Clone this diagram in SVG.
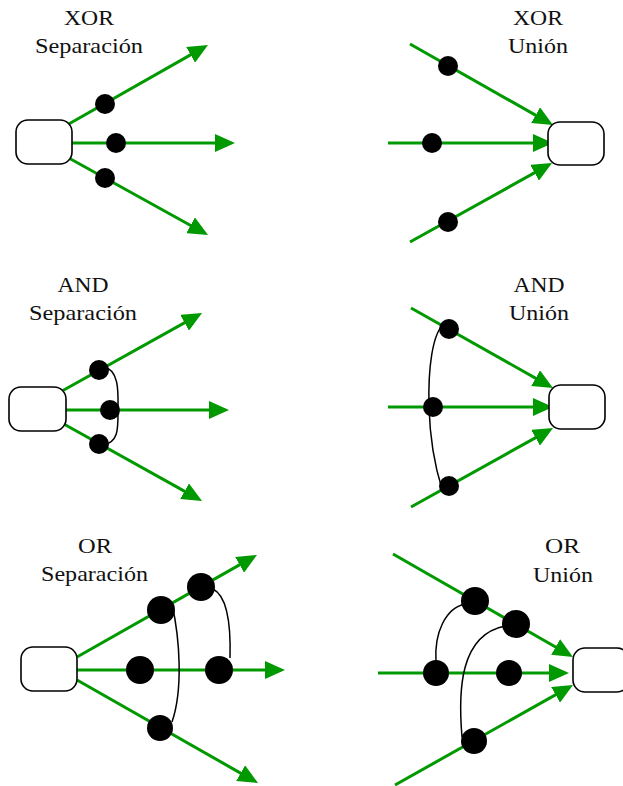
<svg xmlns="http://www.w3.org/2000/svg" width="623" height="786" viewBox="0 0 623 786">
<defs>
<style>
.lbl{font-family:'Liberation Serif','Times New Roman','DejaVu Serif',serif;font-size:21px;fill:#111;text-anchor:middle}
.box{fill:#fff;stroke:#000;stroke-width:1.6}
.flow{stroke:#009900;stroke-width:3;fill:none}
.arr{marker-end:url(#ah)}
.dot{fill:#000}
.link{fill:none;stroke:#000;stroke-width:1.5}
</style>
<marker id="ah" markerUnits="userSpaceOnUse" markerWidth="20" markerHeight="18" viewBox="0 0 20 18" refX="10" refY="9" orient="auto">
<path d="M0,0 L20,9 L0,18 z" fill="#009900"/>
</marker>
</defs>
<rect width="623" height="786" fill="#fff"/>

<g id="labels" font-family="Liberation Serif, Times New Roman, DejaVu Serif, serif">
<text class="lbl" x="89" y="25" textLength="50" lengthAdjust="spacingAndGlyphs">XOR</text>
<text class="lbl" x="89" y="53" textLength="108" lengthAdjust="spacingAndGlyphs">Separación</text>
<text class="lbl" x="538" y="25" textLength="50" lengthAdjust="spacingAndGlyphs">XOR</text>
<text class="lbl" x="538" y="53" textLength="60" lengthAdjust="spacingAndGlyphs">Unión</text>
<text class="lbl" x="83" y="292" textLength="51" lengthAdjust="spacingAndGlyphs">AND</text>
<text class="lbl" x="83" y="320" textLength="108" lengthAdjust="spacingAndGlyphs">Separación</text>
<text class="lbl" x="539" y="292" textLength="51" lengthAdjust="spacingAndGlyphs">AND</text>
<text class="lbl" x="539" y="320" textLength="60" lengthAdjust="spacingAndGlyphs">Unión</text>
<text class="lbl" x="95" y="553" textLength="34" lengthAdjust="spacingAndGlyphs">OR</text>
<text class="lbl" x="94.5" y="581" textLength="107" lengthAdjust="spacingAndGlyphs">Separación</text>
<text class="lbl" x="562.5" y="553" textLength="35" lengthAdjust="spacingAndGlyphs">OR</text>
<text class="lbl" x="563" y="582" textLength="60" lengthAdjust="spacingAndGlyphs">Unión</text>
</g>

<g id="connectors">
<line class="flow arr" x1="67" y1="125" x2="199.3" y2="49.9"/>
<line class="flow arr" x1="72" y1="143" x2="225" y2="143"/>
<line class="flow arr" x1="67" y1="157" x2="199.3" y2="230.2"/>
<line class="flow arr" x1="410" y1="44" x2="544.3" y2="120.1"/>
<line class="flow arr" x1="388" y1="143" x2="543" y2="143"/>
<line class="flow arr" x1="410" y1="242" x2="543.3" y2="167.9"/>
<line class="flow arr" x1="62" y1="391" x2="193.3" y2="317.9"/>
<line class="flow arr" x1="66" y1="410" x2="219" y2="410"/>
<line class="flow arr" x1="62" y1="423" x2="193.3" y2="496.1"/>
<line class="flow arr" x1="411" y1="308" x2="544.3" y2="383.1"/>
<line class="flow arr" x1="388" y1="407" x2="543" y2="407"/>
<line class="flow arr" x1="411" y1="507" x2="544.3" y2="432.9"/>
<line class="flow arr" x1="77" y1="657" x2="248.3" y2="559.9"/>
<line class="flow arr" x1="77" y1="670" x2="275" y2="670"/>
<line class="flow arr" x1="77" y1="680" x2="249.3" y2="778.1"/>
<line class="flow arr" x1="393" y1="554" x2="564.3" y2="652"/>
<line class="flow arr" x1="378" y1="673" x2="559" y2="673"/>
<line class="flow arr" x1="395" y1="785" x2="564.3" y2="689.9"/>
<path class="link" d="M104 367 C120 370 118 395 118 410 C118 428 119 442 103 445"/>
<path class="link" d="M445 323 C432 332 428 370 429 407 C430 440 436 470 442 489"/>
<path class="link" d="M172 604 C180 640 183 690 172 722"/>
<path class="link" d="M213 589 C227 596 231 622 230 658"/>
<path class="link" d="M436 662 C434 632 446 608 465 604"/>
<path class="link" d="M462 737 C458 690 460 635 505 626"/>
</g>

<g id="gates">
<circle class="dot" cx="105" cy="104" r="10"/>
<circle class="dot" cx="116" cy="143" r="10"/>
<circle class="dot" cx="105" cy="178" r="10"/>
<circle class="dot" cx="448" cy="66" r="10"/>
<circle class="dot" cx="432" cy="143" r="10"/>
<circle class="dot" cx="448" cy="222" r="10"/>
<circle class="dot" cx="99" cy="370" r="10"/>
<circle class="dot" cx="110" cy="410" r="10"/>
<circle class="dot" cx="99" cy="444" r="10"/>
<circle class="dot" cx="449" cy="329" r="10"/>
<circle class="dot" cx="433" cy="407" r="10"/>
<circle class="dot" cx="449" cy="486" r="10"/>
<circle class="dot" cx="161" cy="610" r="14"/>
<circle class="dot" cx="201" cy="587" r="14"/>
<circle class="dot" cx="140" cy="670" r="14"/>
<circle class="dot" cx="219" cy="670" r="14"/>
<circle class="dot" cx="160" cy="728" r="13"/>
<circle class="dot" cx="475" cy="601" r="14"/>
<circle class="dot" cx="516" cy="624" r="14"/>
<circle class="dot" cx="436" cy="673" r="13"/>
<circle class="dot" cx="509" cy="673" r="13"/>
<circle class="dot" cx="474" cy="741" r="13"/>
</g>

<g id="node-xor-split"><rect class="box" x="16" y="120" width="56" height="44" rx="12"/></g>
<g id="node-xor-join"><rect class="box" x="548" y="122" width="56" height="43" rx="12"/></g>
<g id="node-and-split"><rect class="box" x="9" y="387" width="57" height="44" rx="12"/></g>
<g id="node-and-join"><rect class="box" x="549" y="385" width="56" height="44" rx="12"/></g>
<g id="node-or-split"><rect class="box" x="21" y="647" width="56" height="44" rx="12"/></g>
<g id="node-or-join"><rect class="box" x="573" y="648" width="56" height="44" rx="12"/></g>
</svg>
